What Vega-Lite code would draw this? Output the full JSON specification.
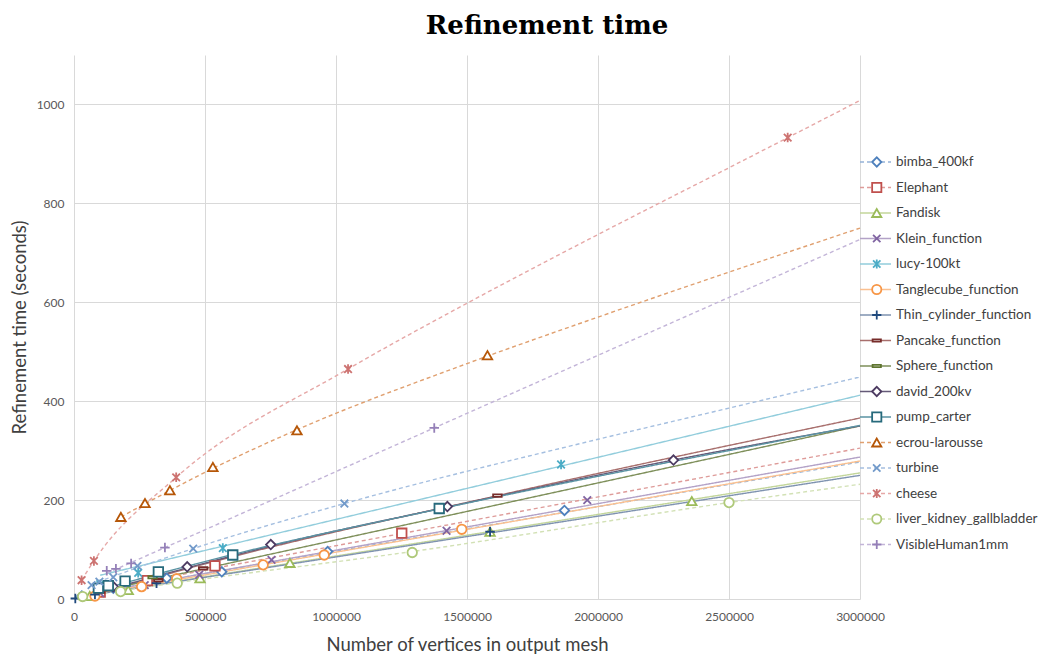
{
  "$schema": "https://vega.github.io/schema/vega-lite/v6.json",
  "autosize": {"type": "none"},
  "width": 786,
  "height": 544,
  "padding": {"left": 74, "top": 55, "right": 187, "bottom": 59},
  "background": "white",
  "config": {"view": {"stroke": null}},
  "title": {"text": "Refinement time", "font": "DejaVu Serif", "fontSize": 26, "fontWeight": "bold", "color": "#000000", "anchor": "middle", "dx": 80, "baseline": "alphabetic", "offset": -5},
  "datasets": {
    "order": [
      {"s": "bimba_400kf", "o": 1}, {"s": "Elephant", "o": 2}, {"s": "Fandisk", "o": 3}, {"s": "Klein_function", "o": 4}, {"s": "lucy-100kt", "o": 5}, {"s": "Tanglecube_function", "o": 6}, {"s": "Thin_cylinder_function", "o": 7}, {"s": "Pancake_function", "o": 8}, {"s": "Sphere_function", "o": 9}, {"s": "david_200kv", "o": 10}, {"s": "pump_carter", "o": 11}, {"s": "ecrou-larousse", "o": 12}, {"s": "turbine", "o": 13}, {"s": "cheese", "o": 14}, {"s": "liver_kidney_gallbladder", "o": 15}, {"s": "VisibleHuman1mm", "o": 16}
    ],
    "pts": [
      {"s": "bimba_400kf", "x": 30000, "y": 6}, {"s": "bimba_400kf", "x": 150000, "y": 22}, {"s": "bimba_400kf", "x": 354000, "y": 42}, {"s": "bimba_400kf", "x": 564000, "y": 55}, {"s": "bimba_400kf", "x": 968000, "y": 96}, {"s": "bimba_400kf", "x": 1872000, "y": 179},
      {"s": "Elephant", "x": 100000, "y": 14}, {"s": "Elephant", "x": 280000, "y": 37}, {"s": "Elephant", "x": 538000, "y": 67}, {"s": "Elephant", "x": 1251000, "y": 133},
      {"s": "Fandisk", "x": 60000, "y": 6}, {"s": "Fandisk", "x": 207000, "y": 18}, {"s": "Fandisk", "x": 481000, "y": 42}, {"s": "Fandisk", "x": 824000, "y": 73}, {"s": "Fandisk", "x": 1588000, "y": 136}, {"s": "Fandisk", "x": 2358000, "y": 198},
      {"s": "Klein_function", "x": 100000, "y": 12}, {"s": "Klein_function", "x": 270000, "y": 28}, {"s": "Klein_function", "x": 478000, "y": 49}, {"s": "Klein_function", "x": 754000, "y": 79}, {"s": "Klein_function", "x": 1422000, "y": 138}, {"s": "Klein_function", "x": 1959000, "y": 200},
      {"s": "lucy-100kt", "x": 100000, "y": 30}, {"s": "lucy-100kt", "x": 245000, "y": 53}, {"s": "lucy-100kt", "x": 568000, "y": 103}, {"s": "lucy-100kt", "x": 1859000, "y": 272},
      {"s": "Tanglecube_function", "x": 80000, "y": 6}, {"s": "Tanglecube_function", "x": 258000, "y": 25}, {"s": "Tanglecube_function", "x": 392000, "y": 41}, {"s": "Tanglecube_function", "x": 722000, "y": 69}, {"s": "Tanglecube_function", "x": 955000, "y": 89}, {"s": "Tanglecube_function", "x": 1480000, "y": 141},
      {"s": "Thin_cylinder_function", "x": 5000, "y": 1}, {"s": "Thin_cylinder_function", "x": 80000, "y": 9}, {"s": "Thin_cylinder_function", "x": 315000, "y": 32}, {"s": "Thin_cylinder_function", "x": 1588000, "y": 136},
      {"s": "Pancake_function", "x": 100000, "y": 15}, {"s": "Pancake_function", "x": 322000, "y": 38}, {"s": "Pancake_function", "x": 493000, "y": 62}, {"s": "Pancake_function", "x": 1616000, "y": 209},
      {"s": "Sphere_function", "x": 120000, "y": 20}, {"s": "Sphere_function", "x": 300000, "y": 44},
      {"s": "david_200kv", "x": 150000, "y": 25}, {"s": "david_200kv", "x": 432000, "y": 65}, {"s": "david_200kv", "x": 751000, "y": 110}, {"s": "david_200kv", "x": 1425000, "y": 187}, {"s": "david_200kv", "x": 2288000, "y": 281},
      {"s": "pump_carter", "x": 93000, "y": 22}, {"s": "pump_carter", "x": 131000, "y": 27}, {"s": "pump_carter", "x": 195000, "y": 36}, {"s": "pump_carter", "x": 322000, "y": 55}, {"s": "pump_carter", "x": 606000, "y": 89}, {"s": "pump_carter", "x": 1394000, "y": 183},
      {"s": "ecrou-larousse", "x": 179000, "y": 166}, {"s": "ecrou-larousse", "x": 271000, "y": 194}, {"s": "ecrou-larousse", "x": 366000, "y": 220}, {"s": "ecrou-larousse", "x": 530000, "y": 267}, {"s": "ecrou-larousse", "x": 851000, "y": 341}, {"s": "ecrou-larousse", "x": 1578000, "y": 493},
      {"s": "turbine", "x": 67000, "y": 28}, {"s": "turbine", "x": 97000, "y": 35}, {"s": "turbine", "x": 150000, "y": 44}, {"s": "turbine", "x": 242000, "y": 67}, {"s": "turbine", "x": 455000, "y": 102}, {"s": "turbine", "x": 1032000, "y": 193},
      {"s": "cheese", "x": 29000, "y": 38}, {"s": "cheese", "x": 76000, "y": 77}, {"s": "cheese", "x": 390000, "y": 246}, {"s": "cheese", "x": 1046000, "y": 465}, {"s": "cheese", "x": 2724000, "y": 933},
      {"s": "liver_kidney_gallbladder", "x": 33000, "y": 5}, {"s": "liver_kidney_gallbladder", "x": 178000, "y": 15}, {"s": "liver_kidney_gallbladder", "x": 394000, "y": 32}, {"s": "liver_kidney_gallbladder", "x": 1291000, "y": 94}, {"s": "liver_kidney_gallbladder", "x": 2500000, "y": 195},
      {"s": "VisibleHuman1mm", "x": 125000, "y": 57}, {"s": "VisibleHuman1mm", "x": 160000, "y": 61}, {"s": "VisibleHuman1mm", "x": 218000, "y": 72}, {"s": "VisibleHuman1mm", "x": 347000, "y": 104}, {"s": "VisibleHuman1mm", "x": 1375000, "y": 346}
    ],
    "trend": [
      {"s": "bimba_400kf", "x": 30000, "y": 9}, {"s": "bimba_400kf", "x": 3000000, "y": 277},
      {"s": "Elephant", "x": 100000, "y": 19}, {"s": "Elephant", "x": 3000000, "y": 305},
      {"s": "Fandisk", "x": 60000, "y": 8}, {"s": "Fandisk", "x": 3000000, "y": 255},
      {"s": "Klein_function", "x": 100000, "y": 14}, {"s": "Klein_function", "x": 3000000, "y": 287},
      {"s": "lucy-100kt", "x": 100000, "y": 48}, {"s": "lucy-100kt", "x": 3000000, "y": 412},
      {"s": "Tanglecube_function", "x": 80000, "y": 10}, {"s": "Tanglecube_function", "x": 3000000, "y": 279},
      {"s": "Thin_cylinder_function", "x": 5000, "y": 3}, {"s": "Thin_cylinder_function", "x": 3000000, "y": 250},
      {"s": "Pancake_function", "x": 100000, "y": 12}, {"s": "Pancake_function", "x": 493000, "y": 70}, {"s": "Pancake_function", "x": 1616000, "y": 209}, {"s": "Pancake_function", "x": 3000000, "y": 366},
      {"s": "Sphere_function", "x": 120000, "y": 18}, {"s": "Sphere_function", "x": 3000000, "y": 350},
      {"s": "david_200kv", "x": 150000, "y": 22}, {"s": "david_200kv", "x": 432000, "y": 63}, {"s": "david_200kv", "x": 751000, "y": 107}, {"s": "david_200kv", "x": 1425000, "y": 186}, {"s": "david_200kv", "x": 2288000, "y": 281}, {"s": "david_200kv", "x": 3000000, "y": 350},
      {"s": "pump_carter", "x": 93000, "y": 18}, {"s": "pump_carter", "x": 606000, "y": 90}, {"s": "pump_carter", "x": 1394000, "y": 182}, {"s": "pump_carter", "x": 3000000, "y": 351},
      {"s": "ecrou-larousse", "x": 179000, "y": 166}, {"s": "ecrou-larousse", "x": 534000, "y": 265}, {"s": "ecrou-larousse", "x": 854000, "y": 343}, {"s": "ecrou-larousse", "x": 1500000, "y": 476}, {"s": "ecrou-larousse", "x": 2000000, "y": 570}, {"s": "ecrou-larousse", "x": 2500000, "y": 661}, {"s": "ecrou-larousse", "x": 3000000, "y": 750},
      {"s": "turbine", "x": 67000, "y": 30}, {"s": "turbine", "x": 455000, "y": 102}, {"s": "turbine", "x": 1032000, "y": 193}, {"s": "turbine", "x": 2000000, "y": 323}, {"s": "turbine", "x": 2500000, "y": 386}, {"s": "turbine", "x": 3000000, "y": 449},
      {"s": "cheese", "x": 29000, "y": 38}, {"s": "cheese", "x": 76000, "y": 77}, {"s": "cheese", "x": 390000, "y": 246}, {"s": "cheese", "x": 1046000, "y": 465}, {"s": "cheese", "x": 1500000, "y": 598}, {"s": "cheese", "x": 2000000, "y": 737}, {"s": "cheese", "x": 2500000, "y": 872}, {"s": "cheese", "x": 3000000, "y": 1008},
      {"s": "liver_kidney_gallbladder", "x": 33000, "y": 5}, {"s": "liver_kidney_gallbladder", "x": 394000, "y": 33}, {"s": "liver_kidney_gallbladder", "x": 1291000, "y": 96}, {"s": "liver_kidney_gallbladder", "x": 2500000, "y": 195}, {"s": "liver_kidney_gallbladder", "x": 3000000, "y": 232},
      {"s": "VisibleHuman1mm", "x": 125000, "y": 52}, {"s": "VisibleHuman1mm", "x": 347000, "y": 104}, {"s": "VisibleHuman1mm", "x": 1375000, "y": 346}, {"s": "VisibleHuman1mm", "x": 3000000, "y": 727}
    ]
  },
  "encoding": {
    "x": {"field": "x", "type": "quantitative", "scale": {"domain": [0, 3000000], "nice": false, "zero": false},
      "axis": {"title": "Number of vertices in output mesh", "values": [0, 500000, 1000000, 1500000, 2000000, 2500000, 3000000], "format": "d", "domain": false, "ticks": false, "labelFlush": false, "labelPadding": 12, "labelFont": "Lato", "labelFontSize": 12, "labelColor": "#595959", "titleFont": "Lato", "titleFontSize": 18.5, "titleFontWeight": "normal", "titleColor": "#404040", "titlePadding": 13, "gridColor": "#D9D9D9", "gridWidth": 1}},
    "y": {"field": "y", "type": "quantitative", "scale": {"domain": [0, 1100], "nice": false},
      "axis": {"title": "Refinement time (seconds)", "values": [0, 200, 400, 600, 800, 1000], "format": "d", "domain": false, "ticks": false, "labelPadding": 10, "labelFont": "Lato", "labelFontSize": 12, "labelColor": "#595959", "titleFont": "Lato", "titleFontSize": 18.5, "titleFontWeight": "normal", "titleColor": "#404040", "titlePadding": 7, "gridColor": "#D9D9D9", "gridWidth": 1}}
  },
  "layer": [
    {
      "data": {"name": "trend"},
      "transform": [{"lookup": "s", "from": {"data": {"name": "order"}, "key": "s", "fields": ["o"]}}],
      "mark": {"type": "line", "interpolate": "monotone", "strokeWidth": 1.4},
      "encoding": {
        "color": {"field": "s", "type": "nominal", "sort": {"field": "o", "op": "min"},
          "scale": {"range": ["#95B3D7", "#DE9B99", "#C3D69B", "#B3A2C7", "#92CDDC", "#FAC090", "#7F93B0", "#A86F6D", "#7E8F5A", "#655A78", "#5A93A3", "#E0A070", "#A5BFE0", "#E6A8A7", "#D2E1B5", "#C3B5D8"]},
          "legend": {"title": null, "orient": "none", "direction": "vertical", "legendX": 785, "legendY": 97, "padding": 0, "symbolType": "stroke", "symbolSize": 961, "symbolStrokeWidth": 1.5, "clipHeight": 20, "rowPadding": 5.5, "labelOffset": 4, "labelFont": "Lato", "labelFontSize": 13.5, "labelColor": "#404040", "labelLimit": 300}},
        "strokeDash": {"field": "s", "type": "nominal", "sort": {"field": "o", "op": "min"},
          "scale": {"range": [[4, 3], [4, 3], [1, 0], [1, 0], [1, 0], [1, 0], [1, 0], [1, 0], [1, 0], [1, 0], [1, 0], [4, 3], [4, 3], [4, 3], [4, 3], [4, 3]]},
          "legend": {"title": null, "orient": "none", "direction": "vertical", "legendX": 785, "legendY": 97, "padding": 0, "symbolType": "stroke", "symbolSize": 961, "symbolStrokeWidth": 1.5, "clipHeight": 20, "rowPadding": 5.5, "labelOffset": 4, "labelFont": "Lato", "labelFontSize": 13.5, "labelColor": "#404040", "labelLimit": 300}}
      }
    },
    {
      "data": {"name": "pts"},
      "mark": {"type": "point", "filled": false, "fill": "white", "strokeWidth": 1.8, "size": 90, "opacity": 1},
      "encoding": {
        "stroke": {"field": "s", "type": "nominal",
          "scale": {"domain": ["bimba_400kf", "Elephant", "Fandisk", "Klein_function", "lucy-100kt", "Tanglecube_function", "Thin_cylinder_function", "Pancake_function", "Sphere_function", "david_200kv", "pump_carter", "ecrou-larousse", "turbine", "cheese", "liver_kidney_gallbladder", "VisibleHuman1mm"],
            "range": ["#4F81BD", "#C0504D", "#9BBB59", "#8064A2", "#4BACC6", "#F79646", "#1F497D", "#772C2A", "#5F7530", "#4D3B62", "#276A7C", "#B65708", "#729ACA", "#CD7371", "#AFC97A", "#9580B8"]},
          "legend": {"title": null, "orient": "none", "direction": "vertical", "legendX": 785, "legendY": 97, "padding": 0, "symbolSize": 85, "symbolStrokeWidth": 1.8, "symbolFillColor": "white", "clipHeight": 20, "rowPadding": 5.5, "symbolOffset": 11, "labelExpr": "''", "labelFont": "Lato", "labelFontSize": 13.5}},
        "shape": {"field": "s", "type": "nominal",
          "scale": {"domain": ["bimba_400kf", "Elephant", "Fandisk", "Klein_function", "lucy-100kt", "Tanglecube_function", "Thin_cylinder_function", "Pancake_function", "Sphere_function", "david_200kv", "pump_carter", "ecrou-larousse", "turbine", "cheese", "liver_kidney_gallbladder", "VisibleHuman1mm"],
            "range": ["diamond", "square", "triangle-up", "M-0.8,-0.8L0.8,0.8M-0.8,0.8L0.8,-0.8", "M-0.8,-0.8L0.8,0.8M-0.8,0.8L0.8,-0.8M0,-1L0,1", "circle", "M-1,0L1,0M0,-1L0,1", "M-0.9,-0.25L0.9,-0.25L0.9,0.25L-0.9,0.25Z", "M-0.9,-0.25L0.9,-0.25L0.9,0.25L-0.9,0.25Z", "diamond", "square", "triangle-up", "M-0.8,-0.8L0.8,0.8M-0.8,0.8L0.8,-0.8", "M-0.8,-0.8L0.8,0.8M-0.8,0.8L0.8,-0.8M0,-1L0,1", "circle", "M-1,0L1,0M0,-1L0,1"]},
          "legend": {"title": null, "orient": "none", "direction": "vertical", "legendX": 785, "legendY": 97, "padding": 0, "symbolSize": 85, "symbolStrokeWidth": 1.8, "symbolFillColor": "white", "clipHeight": 20, "rowPadding": 5.5, "symbolOffset": 11, "labelExpr": "''", "labelFont": "Lato", "labelFontSize": 13.5}}
      }
    }
  ]
}
